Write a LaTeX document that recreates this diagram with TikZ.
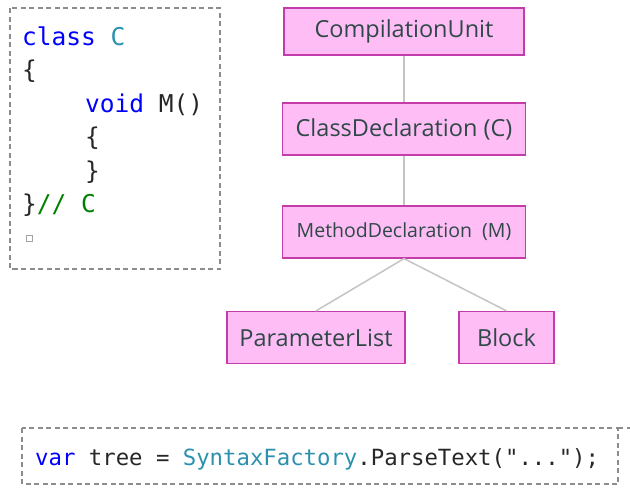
\documentclass[tikz,border=0pt]{standalone}
\usepackage{fontspec}
\setmainfont{Open Sans}
\setmonofont{DejaVu Sans Mono}
\usepackage{xcolor}
\usepackage{tikz}
\definecolor{nodefill}{HTML}{FFBDF5}
\definecolor{nodeline}{HTML}{C23DAA}
\definecolor{nodetext}{HTML}{2E4848}
\definecolor{kw}{HTML}{0000FF}
\definecolor{ty}{HTML}{2B91AF}
\definecolor{cmt}{HTML}{008000}
\definecolor{plain}{HTML}{262626}
\definecolor{boxline}{HTML}{8C8C8C}
\definecolor{treeline}{HTML}{C4C4C4}
\tikzset{
  synnode/.style={draw=nodeline,fill=nodefill,text=nodetext,line width=1.2pt,
    minimum height=52pt,inner sep=0pt,font=\fontsize{23.5}{24}\selectfont},
  link/.style={treeline,line width=1.5pt},
  dashbox/.style={boxline,line width=1.3pt,dash pattern=on 5pt off 3.5pt},
  codeline/.style={anchor=base west,inner sep=0pt,text=plain,font=\fontsize{24.5}{25}\ttfamily}
}
\newcommand{\kw}[1]{\textcolor{kw}{#1}}
\newcommand{\ty}[1]{\textcolor{ty}{#1}}
\newcommand{\cmt}[1]{\textcolor{cmt}{#1}}

\begin{document}
\begin{tikzpicture}[x=1pt,y=-1pt]
\useasboundingbox (0,0) rectangle (630,496);
% source panel
\draw[dashbox] (10,8) rectangle (220,269);
\node[codeline] (l1) at (22,45) {\kw{class} \ty{C}};
\node[codeline] (l2) at (22,78.5) {\{};
\node[codeline] (l3) at (85,112) {\kw{void} M()};
\node[codeline] (l4) at (85,145.5) {\{};
\node[codeline] (l5) at (85,179) {\}};
\node[codeline] (l6) at (22,212.5) {\}\cmt{// C}};
\node[draw=boxline!80,line width=0.6pt,minimum size=6pt,inner sep=0pt] (eof) at (29,238) {};
% tree
\node[synnode,minimum width=240pt,minimum height=47pt] (cu) at (404,31.5) {CompilationUnit};
\node[synnode,minimum width=243pt] (cd) at (404,129) {ClassDeclaration (C)};
\node[synnode,minimum width=243pt,font=\fontsize{19.5}{20}\selectfont] (md) at (404,232) {MethodDeclaration\ \ (M)};
\node[synnode,minimum width=178pt] (pl) at (316,337.5) {ParameterList};
\node[synnode,minimum width=95pt] (bl) at (506.5,337.5) {Block};
\draw[link] (cu) -- (cd);
\draw[link] (cd) -- (md);
\draw[link] (md.south) -- (pl.north);
\draw[link] (md.south) -- (bl.north);
% parse call
\draw[dashbox] (22,428) rectangle (618,484);
\draw[dashbox] (618,428) -- (630,428);
\node[codeline,font=\fontsize{22.3}{22}\ttfamily] (call) at (35,465)
  {\kw{var} tree = \ty{SyntaxFactory}.ParseText("...");};
\end{tikzpicture}
\end{document}
